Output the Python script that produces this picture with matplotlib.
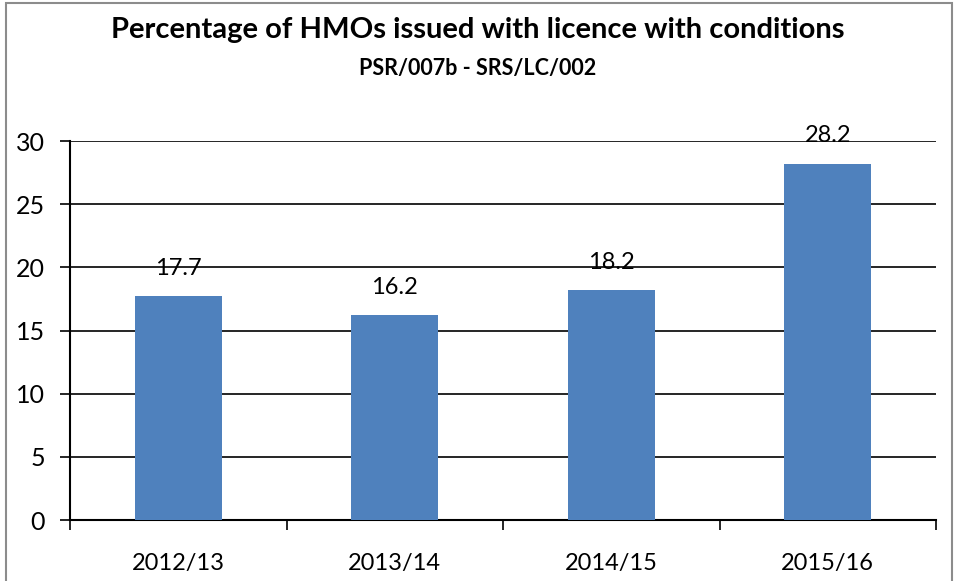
import matplotlib.pyplot as plt
from matplotlib.patches import Rectangle

# Chart data
years = ["2012/13", "2013/14", "2014/15", "2015/16"]
pct_with_conditions = [17.7, 16.2, 18.2, 28.2]
y_ticks = [0, 5, 10, 15, 20, 25, 30]

plt.rcParams['font.family'] = ['Lato', 'DejaVu Sans']

fig = plt.figure(figsize=(9.56, 5.81), dpi=100)
ax = fig.add_axes([70 / 956, 1 - 520 / 581, 866 / 956, 379 / 581])

# outer chart frame
fig.patches.append(Rectangle((6 / 956, -0.02), 946 / 956, 1 - 3 / 581 + 0.02,
                             transform=fig.transFigure, fill=False,
                             edgecolor="#8c8c8c", linewidth=1.5))

x = range(len(years))
bars = ax.bar(x, pct_with_conditions, width=0.4, color="#4F81BD", zorder=3)

for xi, v in zip(x, pct_with_conditions):
    ax.text(xi, v + 2.2, f"{v}", ha="center", va="center", fontsize=17, zorder=4)

ax.set_xlim(-0.5, len(years) - 0.5)
ax.set_ylim(0, 30)
ax.set_yticks(y_ticks)
ax.tick_params(axis="y", labelsize=18, length=7, width=1.2, pad=11)
ax.yaxis.grid(True, color="black", linewidth=1.2, zorder=0)

# category labels centred, ticks at category boundaries
ax.set_xticks(list(x))
ax.set_xticklabels(years, fontsize=17)
ax.tick_params(axis="x", length=0, pad=24)
ax.set_xticks([i + 0.5 for i in range(-1, len(years))], minor=True)
ax.tick_params(axis="x", which="minor", length=7, width=1.2)

for side in ["top", "right"]:
    ax.spines[side].set_visible(False)
ax.spines["left"].set_linewidth(1.5)
ax.spines["bottom"].set_linewidth(1.5)

fig.text(0.5, 1 - 30 / 581, "Percentage of HMOs issued with licence with conditions",
         ha="center", va="center", fontsize=21, fontweight="bold")
fig.text(0.5, 1 - 68 / 581, "PSR/007b - SRS/LC/002",
         ha="center", va="center", fontsize=15.5, fontweight="bold")

fig.savefig("out.png", dpi=100)
